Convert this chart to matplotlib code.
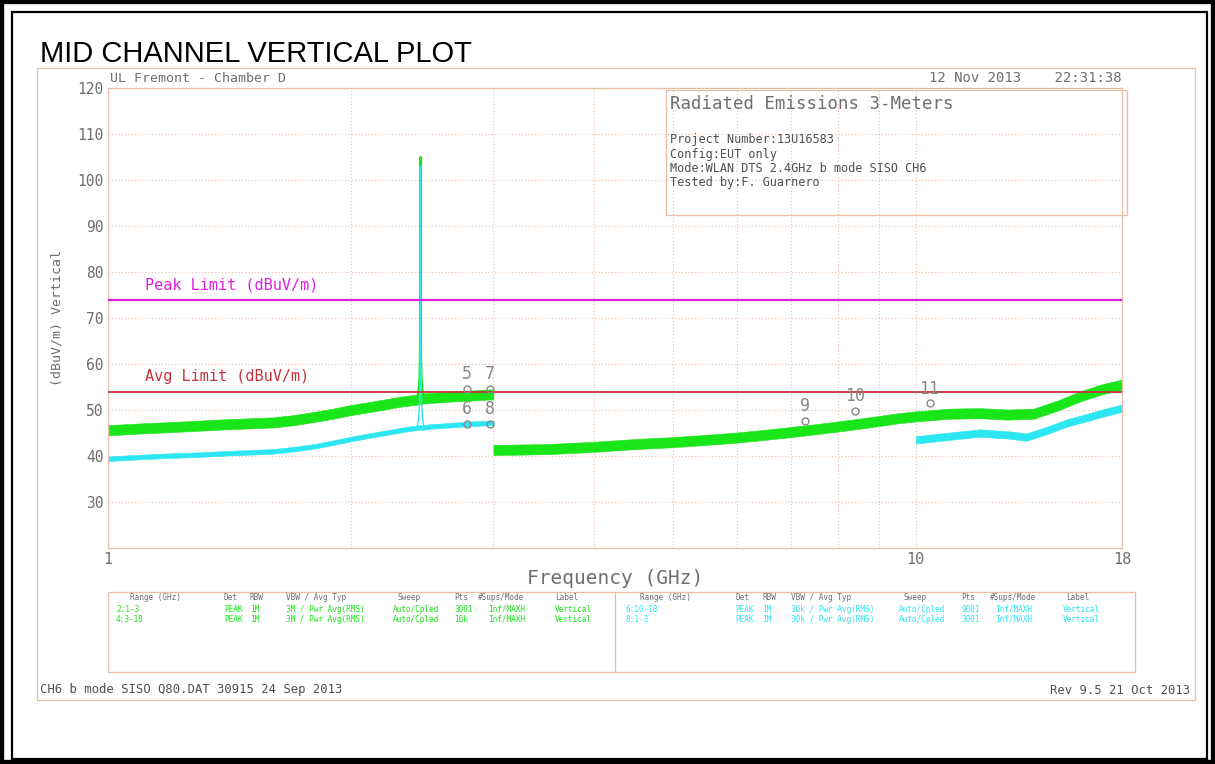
import matplotlib
matplotlib.use("Agg")
import matplotlib.pyplot as plt
from matplotlib.patches import Rectangle
from matplotlib.lines import Line2D
import numpy as np

# ---------------- data ----------------
freq_1_3 = [1.0, 1.1, 1.2, 1.3, 1.4, 1.5, 1.6, 1.7, 1.8, 1.9, 2.0, 2.1, 2.2, 2.3, 2.42,
            2.455, 2.5, 2.6, 2.7, 2.8, 2.9, 3.0]
green_1_3 = [45.6, 46.0, 46.3, 46.6, 46.9, 47.1, 47.3, 47.8, 48.5, 49.2, 50.0, 50.6, 51.2, 51.8, 52.3,
             52.5, 52.6, 52.8, 53.0, 53.1, 53.3, 53.4]
cyan_1_3 = [39.4, 39.8, 40.1, 40.3, 40.6, 40.8, 41.0, 41.5, 42.1, 42.9, 43.7, 44.4, 45.0, 45.6, 46.2,
            46.2, 46.4, 46.6, 46.8, 47.0, 47.1, 47.2]

spike_freq = [2.415, 2.425, 2.430, 2.433, 2.435, 2.436, 2.437, 2.438, 2.439, 2.441, 2.444, 2.450, 2.460]
green_spike = [52.5, 54.5, 57.0, 61.0, 70.0, 88.0, 105.0, 88.0, 70.0, 61.0, 57.0, 54.5, 52.5]
cyan_spike = [46.5, 48.5, 52.0, 57.0, 68.0, 86.0, 103.0, 86.0, 68.0, 57.0, 52.0, 48.5, 46.5]

freq_3_18 = [3.0, 3.5, 4.0, 4.5, 5.0, 5.5, 6.0, 6.5, 7.0, 7.5, 8.0, 8.5, 9.0, 9.5, 10.0,
             11.0, 12.0, 13.0, 14.0, 15.0, 16.0, 17.0, 18.0]
green_3_18 = [41.3, 41.5, 42.0, 42.6, 43.0, 43.5, 44.0, 44.6, 45.2, 45.8, 46.4, 47.0, 47.6, 48.2, 48.6,
              49.2, 49.3, 49.0, 49.2, 51.0, 53.0, 54.5, 55.5]

freq_10_18 = [10.0, 11.0, 12.0, 13.0, 13.7, 14.5, 15.4, 16.4, 17.0, 18.0]
cyan_10_18 = [43.5, 44.3, 45.0, 44.6, 44.1, 45.5, 47.2, 48.5, 49.3, 50.4]

green_spread = 1.1   # half-width of the noisy peak trace (dB)
cyan_spread = 0.5    # half-width of the noisy average trace (dB)

peak_limit = 74.0
avg_limit = 54.0

marker_labels = ["5", "6", "7", "8", "9", "10", "11"]
marker_freq = [2.785, 2.785, 2.974, 2.974, 7.30, 8.42, 10.4]
marker_level = [54.6, 47.0, 54.6, 47.0, 47.6, 49.8, 51.5]

y_ticks = [30, 40, 50, 60, 70, 80, 90, 100, 110, 120]
x_ticks = [1, 10, 18]
x_grid = [2, 3, 4, 5, 6, 7, 8, 9, 10]

table_header = ["Range (GHz)", "Det", "RBW", "VBW / Avg Typ", "Sweep", "Pts", "#Sups/Mode", "Label"]
table_left_rows = [["2:1-3", "PEAK", "1M", "3M / Pwr Avg(RMS)", "Auto/Cpled", "3001", "Inf/MAXH", "Vertical"],
                   ["4:3-18", "PEAK", "1M", "3M / Pwr Avg(RMS)", "Auto/Cpled", "16k", "Inf/MAXH", "Vertical"]]
table_right_rows = [["6:10-18", "PEAK", "1M", "30k / Pwr Avg(RMS)", "Auto/Cpled", "9001", "Inf/MAXH", "Vertical"],
                    ["8:1-3", "PEAK", "1M", "30k / Pwr Avg(RMS)", "Auto/Cpled", "3001", "Inf/MAXH", "Vertical"]]

# ---------------- styling ----------------
W, H = 1215, 764
GREEN = "#19E619"
CYAN = "#2CE6F2"
MAGENTA = "#E01EE0"
RED = "#C8323C"
TAN = "#E8BFA4"
GRAY = "#6E6E6E"
MONO = "DejaVu Sans Mono"

def P(x, y):
    return (x / W, 1 - y / H)

fig = plt.figure(figsize=(W / 100, H / 100), dpi=100)
fig.patch.set_facecolor("white")

def frect(x0, y0, x1, y1, color, lw, z=1):
    r = Rectangle(P(x0, y1), (x1 - x0) / W, (y1 - y0) / H, transform=fig.transFigure,
                  fill=False, edgecolor=color, linewidth=lw, zorder=z)
    fig.add_artist(r)

def fline(x0, y0, x1, y1, color, lw):
    a, b = P(x0, y0)
    c, d = P(x1, y1)
    fig.add_artist(Line2D([a, c], [b, d], transform=fig.transFigure, color=color, linewidth=lw))

# outer black borders
frect(0, 0, W, H, "black", 6.0)
frect(12, 12, 1207, 759, "black", 1.6)
# tan panel frame
frect(37, 68, 1195, 700, TAN, 0.9)

# title
fig.text(*P(40, 62), "MID CHANNEL VERTICAL PLOT", fontsize=21, family="Liberation Sans",
         color="black", ha="left", va="baseline")

# ---------------- axes ----------------
ax_l, ax_r, ax_t, ax_b = 108, 1122, 88, 548
ax = fig.add_axes([ax_l / W, 1 - ax_b / H, (ax_r - ax_l) / W, (ax_b - ax_t) / H])
ax.set_xscale("log")
ax.set_xlim(1, 18)
ax.set_ylim(20, 120)
for s in ax.spines.values():
    s.set_color(TAN)
    s.set_linewidth(0.9)

for g in x_grid:
    ax.axvline(g, color=TAN, lw=0.8, ls=(0, (1, 2)), zorder=0)
for yv in y_ticks[:-1]:
    ax.axhline(yv, color=TAN, lw=0.8, ls=(0, (1, 2)), zorder=0)

ax.set_yticks(y_ticks)
ax.set_yticklabels([str(v) for v in y_ticks], family=MONO, fontsize=10.5, color=GRAY)
ax.xaxis.set_minor_locator(matplotlib.ticker.NullLocator())
ax.set_xticks(x_ticks)
ax.set_xticklabels([str(v) for v in x_ticks], family=MONO, fontsize=11, color=GRAY)
ax.tick_params(axis="both", length=0, pad=3)

ax.set_ylabel("(dBuV/m) Vertical", family=MONO, fontsize=9.5, color=GRAY, labelpad=10)
ax.set_xlabel("Frequency (GHz)", family=MONO, fontsize=14, color=GRAY, labelpad=1)

# limits
ax.axhline(peak_limit, color=MAGENTA, lw=1.6, zorder=3)
ax.axhline(avg_limit, color=RED, lw=1.3, zorder=3)
ax.text(1.111, peak_limit + 3.2, "Peak Limit (dBuV/m)", family=MONO, fontsize=11, color=MAGENTA, va="center")
ax.text(1.111, avg_limit + 3.3, "Avg Limit (dBuV/m)", family=MONO, fontsize=11, color=RED, va="center")

def band(f, v, spread, color, z):
    v = np.asarray(v, float)
    ax.fill_between(f, v - spread, v + spread, color=color, lw=0.4, edgecolor=color, zorder=z)

band(freq_1_3, cyan_1_3, cyan_spread, CYAN, 2)
band(freq_10_18, cyan_10_18, cyan_spread + 0.3, CYAN, 2)
band(freq_1_3, green_1_3, green_spread, GREEN, 2.5)
band(freq_3_18, green_3_18, green_spread, GREEN, 2.5)
ax.plot(spike_freq, green_spike, color=GREEN, lw=1.6, zorder=2.6)
ax.plot(spike_freq, cyan_spike, color=CYAN, lw=1.0, zorder=2.7)

# markers
for lab, f, lv in zip(marker_labels, marker_freq, marker_level):
    ax.plot([f], [lv], marker="o", ms=5, mfc="none", mec="#888888", mew=1.0, zorder=5)
    ax.annotate(lab, (f, lv), xytext=(0, 4), textcoords="offset points", ha="center", va="bottom",
                family=MONO, fontsize=12, color="#888888", zorder=5)

# header texts
fig.text(*P(110, 78), "UL Fremont - Chamber D", family=MONO, fontsize=9.5, color=GRAY, va="center")
fig.text(*P(1122, 78), "12 Nov 2013    22:31:38", family=MONO, fontsize=10, color=GRAY, va="center", ha="right")

# info box
frect(666, 90, 1127, 215, TAN, 0.9, z=6)
fig.text(*P(670, 104), "Radiated Emissions 3-Meters", family=MONO, fontsize=12.5, color=GRAY, va="center")
info = ["Project Number:13U16583", "Config:EUT only", "Mode:WLAN DTS 2.4GHz b mode SISO CH6", "Tested by:F. Guarnero"]
for i, t in enumerate(info):
    fig.text(*P(670, 140 + i * 14.2), t, family=MONO, fontsize=8.6, color="#505050", va="center")

# settings tables
frect(108, 592, 1135, 672, TAN, 0.9)
fline(615, 592, 615, 672, TAN, 0.9)
left_head_x = [130, 224, 250, 286, 398, 454, 478, 555]
left_row_x = [116, 224, 250, 286, 393, 454, 488, 555]
right_head_x = [640, 735, 762, 791, 903, 961, 990, 1066]
right_row_x = [625, 735, 762, 791, 899, 961, 995, 1063]
row_ys = [597, 609, 619]
for hx, rx, rows, col in ((left_head_x, left_row_x, table_left_rows, GREEN),
                          (right_head_x, right_row_x, table_right_rows, CYAN)):
    for x, h in zip(hx, table_header):
        fig.text(*P(x, row_ys[0]), h, family=MONO, fontsize=5.6, color=GRAY, va="center")
    for r, row in enumerate(rows):
        for x, t in zip(rx, row):
            fig.text(*P(x, row_ys[r + 1]), t, family=MONO, fontsize=5.6, color=col, va="center")

# footer
fig.text(*P(40, 690), "CH6 b mode SISO Q80.DAT 30915 24 Sep 2013", family=MONO, fontsize=8.8, color="#505050", va="center")
fig.text(*P(1190, 690), "Rev 9.5 21 Oct 2013", family=MONO, fontsize=8.8, color="#505050", va="center", ha="right")

fig.savefig("out.png", dpi=100)
